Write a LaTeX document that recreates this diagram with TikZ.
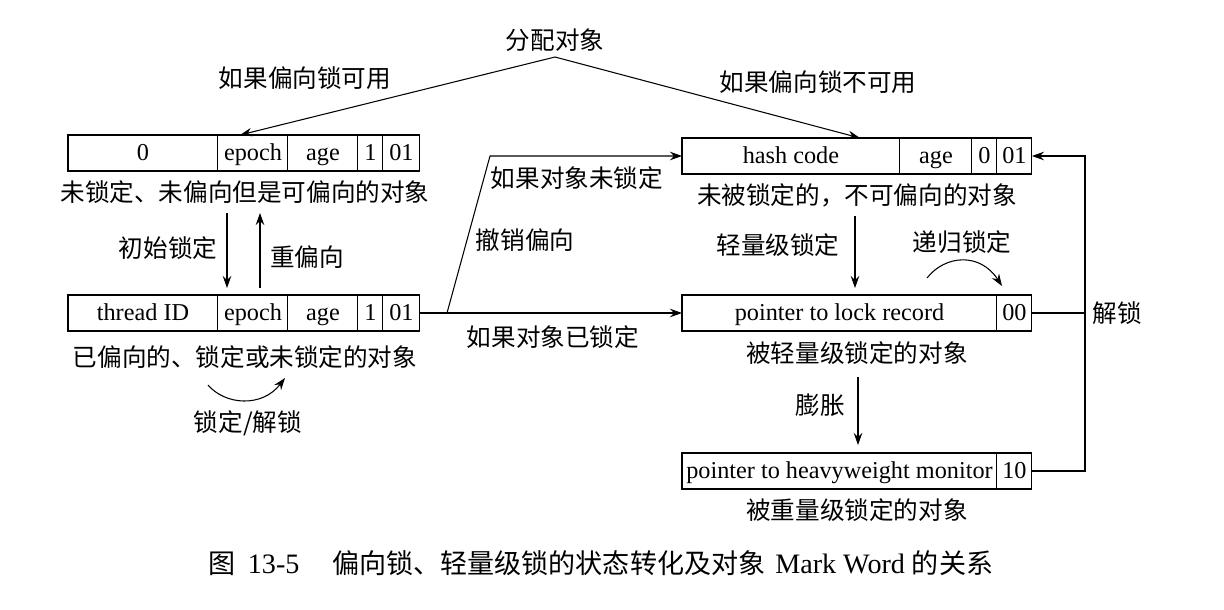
\documentclass[tikz,border=0pt]{standalone}
\usepackage{fontspec}
\setmainfont{Liberation Serif}
\newfontfamily\cjk{Noto Sans CJK SC}
\usetikzlibrary{arrows.meta}
\usetikzlibrary{positioning}
\tikzstyle{cell} = [rectangle, draw=black, minimum height=0.72cm, inner sep=1pt, outer sep=0pt, text centered, text height=9.4pt, text depth=1pt, font=\fontsize{13.8}{16}\selectfont]
\tikzstyle{zh} = [inner sep=1pt, font=\fontsize{14}{16}\selectfont\cjk]
\tikzstyle{arr} = [-{Stealth[length=0.24cm,width=0.17cm]}]

\begin{document}
\begin{tikzpicture}[x=0.02cm, y=-0.02cm, line width=0.6pt, node distance=0pt]
\useasboundingbox (0,0) rectangle (1224,609);

% biasable, unlocked
\node (b1a) [cell, minimum width=3cm, anchor=west] at (68,153) {0};
\node (b1b) [cell, minimum width=1.4cm, right=of b1a] {epoch};
\node (b1c) [cell, minimum width=1.4cm, right=of b1b] {age};
\node (b1d) [cell, minimum width=0.5cm, right=of b1c] {1};
\node (b1e) [cell, minimum width=0.74cm, right=of b1d] {01};
\node (c1) [zh] at (245,192) {未锁定、未偏向但是可偏向的对象};

% biased
\node (b2a) [cell, minimum width=3cm, anchor=west] at (68,313) {thread ID};
\node (b2b) [cell, minimum width=1.4cm, right=of b2a] {epoch};
\node (b2c) [cell, minimum width=1.4cm, right=of b2b] {age};
\node (b2d) [cell, minimum width=0.5cm, right=of b2c] {1};
\node (b2e) [cell, minimum width=0.74cm, right=of b2d] {01};
\node (c2) [zh] at (245,357) {已偏向的、锁定或未锁定的对象};

% unlocked, not biasable
\node (b3a) [cell, minimum width=4.36cm, anchor=west] at (682,156) {hash code};
\node (b3b) [cell, minimum width=1.44cm, right=of b3a] {age};
\node (b3c) [cell, minimum width=0.5cm, right=of b3b] {0};
\node (b3d) [cell, minimum width=0.7cm, right=of b3c] {01};
\node (c3) [zh] at (857,195) {未被锁定的，不可偏向的对象};

% lightweight
\node (b4a) [cell, minimum width=6.3cm, anchor=west] at (682,313) {pointer to lock record};
\node (b4b) [cell, minimum width=0.7cm, right=of b4a] {00};
\node (c4) [zh] at (857,353) {被轻量级锁定的对象};

% heavyweight
\node (b5a) [cell, minimum width=6.3cm, anchor=west] at (682,471) {pointer to heavyweight monitor};
\node (b5b) [cell, minimum width=0.7cm, right=of b5a] {10};
\node (c5) [zh] at (857,510) {被重量级锁定的对象};

% allocation
\node (alloc) [zh] at (555,40) {分配对象};
\coordinate (top) at (555,57);
\draw[arr] (top) -- ([xshift=0.44cm]b1b.north west);
\draw[arr] (top) -- ([xshift=-0.8cm]b3a.north east);
\node (l1) [zh] at (305,78) {如果偏向锁可用};
\node (l2) [zh] at (818,82) {如果偏向锁不可用};

% left column
\coordinate (k1) at (227,213);
\coordinate (k2) at (260,213);
\draw[arr, shorten >=0.14cm] (k1) -- (k1 |- b2b.north);
\draw[arr, shorten <=0.14cm] (k2 |- b2b.north) -- (k2);
\node (l3) [zh] at (168,248) {初始锁定};
\node (l4) [zh] at (307,257) {重偏向};
\coordinate (s1) at (208,385);
\coordinate (s2) at (285,378);
\draw[arr] (s1) .. controls (225,405) and (262,408) .. (s2);
\node (l5) [zh] at (248,423) {锁定/解锁};

% revoke
\coordinate (fork) at (447,313);
\coordinate (bend) at (490,156);
\draw[arr] (b2e.east) -- (b4a.west);
\draw[arr] (fork) -- (bend) -- (b3a.west);
\node (l6) [zh] at (577,178) {如果对象未锁定};
\node (l7) [zh] at (525,240) {撤销偏向};
\node (l8) [zh] at (553,337) {如果对象已锁定};

% right column
\coordinate (k3) at (855,216);
\coordinate (k4) at (858,377);
\draw[arr, shorten >=0.14cm] (k3) -- (k3 |- b4a.north);
\draw[arr, shorten >=0.16cm] (k4) -- (k4 |- b5a.north);
\node (l9) [zh] at (778,245) {轻量级锁定};
\node (l10) [zh] at (820,405) {膨胀};
\coordinate (r1) at (927,278);
\coordinate (r2) at (1002,286);
\draw[arr] (r1) .. controls (945,255) and (980,252) .. (r2);
\node (l11) [zh] at (962,242) {递归锁定};

% unlock
\coordinate (rail) at (1085,313);
\draw[arr] (b5b.east) -- (rail |- b5b.east) -- (rail |- b3d.east) -- (b3d.east);
\draw (b4b.east) -- (rail);
\node (l12) [zh] at (1117,313) {解锁};

\node (cap) [inner sep=1pt, font=\fontsize{16}{18}\selectfont] at (601,563) {{\cjk\fontsize{15.4}{18}\selectfont 图}\hspace{0.24cm}13-5\hspace{0.66cm}{\cjk\fontsize{15.4}{18}\selectfont 偏向锁、轻量级锁的状态转化及对象}\hspace{0.2cm}Mark Word\hspace{0.14cm}{\cjk\fontsize{15.4}{18}\selectfont 的关系}};
\end{tikzpicture}
\end{document}
